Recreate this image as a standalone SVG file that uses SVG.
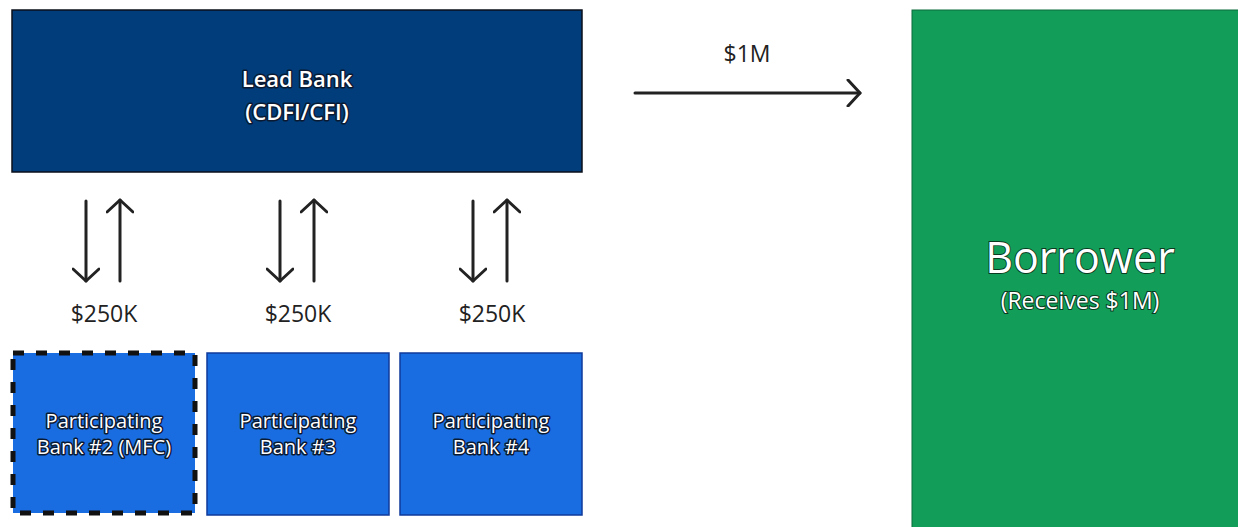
<svg xmlns="http://www.w3.org/2000/svg" width="1238" height="527" viewBox="0 0 1238 527">
<style>
text{font-family:"Open Sans","Noto Sans","DejaVu Sans",sans-serif;text-anchor:middle}
.halo{fill:#fff;stroke:#0a1a33;stroke-width:3;paint-order:stroke;stroke-linejoin:round}
.lbl{fill:#222;font-size:23px}
.conn{stroke:#222;stroke-width:3;fill:none;stroke-linecap:round}
.pb{fill:#1a6de0;stroke:#0f3a9c;stroke-width:1.5}
</style>
<defs>
<marker id="ah" viewBox="-14 -14 16 28" markerWidth="16" markerHeight="28" refX="0" refY="0" orient="auto" markerUnits="userSpaceOnUse">
<path d="M-12,-13 L0,0 L-12,13" fill="none" stroke="#222" stroke-width="3" stroke-linecap="round" stroke-linejoin="round"/>
</marker>
</defs>
<rect width="1238" height="527" fill="#fff"/>
<g id="lead-bank">
<rect x="12" y="10" width="570" height="162" fill="#003d7a" stroke="#0a0f1a" stroke-width="1.5"/>
<text class="halo" x="297" y="87" font-size="22" font-weight="600">Lead Bank</text>
<text class="halo" x="297" y="120" font-size="22" font-weight="600">(CDFI/CFI)</text>
</g>
<g id="borrower">
<rect x="912" y="10" width="330" height="520" fill="#129e58" stroke="#0d6b3c" stroke-width="1"/>
<text x="1080" y="273" font-size="43" fill="#fff" stroke="#0a3a20" stroke-width="1.8" paint-order="stroke">Borrower</text>
<text x="1080" y="309" font-size="23" fill="#fff" stroke="#0a3a20" stroke-width="2" paint-order="stroke">(Receives $1M)</text>
</g>
<g id="bank2">
<rect class="pb" x="13" y="353" width="182" height="160" style="stroke:none"/>
<rect x="13" y="353" width="182" height="160" fill="none" stroke="#111" stroke-width="5" stroke-dasharray="11 12"/>
<text class="halo" x="104" y="428" font-size="20">Participating</text>
<text class="halo" x="104" y="454" font-size="20">Bank #2 (MFC)</text>
</g>
<g id="bank3">
<rect class="pb" x="207" y="353" width="182" height="162"/>
<text class="halo" x="298" y="428" font-size="20">Participating</text>
<text class="halo" x="298" y="454" font-size="20">Bank #3</text>
</g>
<g id="bank4">
<rect class="pb" x="400" y="353" width="182" height="162"/>
<text class="halo" x="491" y="428" font-size="20">Participating</text>
<text class="halo" x="491" y="454" font-size="20">Bank #4</text>
</g>
<g id="connectors">
<line class="conn" x1="635" y1="93" x2="860" y2="93" marker-end="url(#ah)"/>
<text class="lbl" x="747" y="62">$1M</text>
<line class="conn" x1="86" y1="201" x2="86" y2="281" marker-end="url(#ah)"/>
<line class="conn" x1="120" y1="281" x2="120" y2="200" marker-end="url(#ah)"/>
<line class="conn" x1="280" y1="201" x2="280" y2="281" marker-end="url(#ah)"/>
<line class="conn" x1="314" y1="281" x2="314" y2="200" marker-end="url(#ah)"/>
<line class="conn" x1="473" y1="201" x2="473" y2="281" marker-end="url(#ah)"/>
<line class="conn" x1="507" y1="281" x2="507" y2="200" marker-end="url(#ah)"/>
<text class="lbl" x="104" y="322">$250K</text>
<text class="lbl" x="298" y="322">$250K</text>
<text class="lbl" x="492" y="322">$250K</text>
</g>
</svg>
